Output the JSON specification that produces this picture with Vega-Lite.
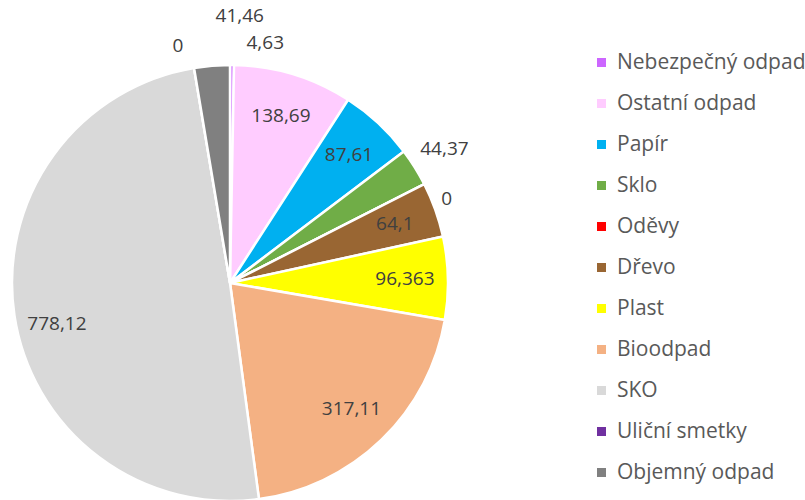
{
  "$schema": "https://vega.github.io/schema/vega-lite/v6.json",
  "width": 436,
  "height": 434,
  "padding": {"left": 12, "top": 66, "right": 357, "bottom": 0},
  "autosize": "none",
  "background": "white",
  "config": {"view": {"stroke": null}, "font": "Open Sans"},
  "data": {
    "values": [
      {"i": 1, "name": "Nebezpečný odpad", "value": 4.63, "label": "4,63"},
      {"i": 2, "name": "Ostatní odpad", "value": 138.69, "label": "138,69"},
      {"i": 3, "name": "Papír", "value": 87.61, "label": "87,61"},
      {"i": 4, "name": "Sklo", "value": 44.37, "label": "44,37"},
      {"i": 5, "name": "Oděvy", "value": 0, "label": "0"},
      {"i": 6, "name": "Dřevo", "value": 64.1, "label": "64,1"},
      {"i": 7, "name": "Plast", "value": 96.363, "label": "96,363"},
      {"i": 8, "name": "Bioodpad", "value": 317.11, "label": "317,11"},
      {"i": 9, "name": "SKO", "value": 778.12, "label": "778,12"},
      {"i": 10, "name": "Uliční smetky", "value": 0, "label": "0"},
      {"i": 11, "name": "Objemný odpad", "value": 41.46, "label": "41,46"}
    ]
  },
  "encoding": {
    "theta": {"field": "value", "type": "quantitative", "stack": true},
    "order": {"field": "i", "type": "quantitative"}
  },
  "layer": [
    {
      "mark": {"type": "arc", "outerRadius": 218, "stroke": "white", "strokeWidth": 2.5},
      "encoding": {
        "color": {
          "field": "name",
          "type": "nominal",
          "scale": {
            "domain": ["Nebezpečný odpad", "Ostatní odpad", "Papír", "Sklo", "Oděvy", "Dřevo", "Plast", "Bioodpad", "SKO", "Uliční smetky", "Objemný odpad"],
            "range": ["#CC66FF", "#FFCCFF", "#00B0F0", "#70AD47", "#FF0000", "#996633", "#FFFF00", "#F4B183", "#D9D9D9", "#7030A0", "#808080"]
          },
          "legend": {
            "title": null,
            "orient": "none",
            "legendX": 579,
            "legendY": -14,
            "symbolType": "square",
            "symbolSize": 81,
            "symbolStrokeWidth": 0,
            "labelFontSize": 21,
            "labelColor": "#595959",
            "labelFont": "Open Sans",
            "labelLimit": 300,
            "rowPadding": 19,
            "labelOffset": 5,
            "padding": 0
          }
        }
      }
    },
    {
      "mark": {"type": "text", "radius": 175, "fontSize": 19, "color": "#404040", "align": "center", "baseline": "middle"},
      "encoding": {
        "text": {"field": "label"},
        "opacity": {"condition": {"test": "indexof(['Ostatní odpad','Papír','Dřevo','Plast','Bioodpad'], datum.name) >= 0", "value": 1}, "value": 0}
      }
    },
    {
      "mark": {"type": "text", "radius": 175, "dy": 15, "fontSize": 19, "color": "#404040", "align": "center", "baseline": "middle"},
      "encoding": {
        "text": {"field": "label"},
        "opacity": {"condition": {"test": "datum.name === 'SKO'", "value": 1}, "value": 0}
      }
    },
    {
      "mark": {"type": "text", "radius": 253, "fontSize": 19, "color": "#404040", "align": "center", "baseline": "middle"},
      "encoding": {
        "text": {"field": "label"},
        "opacity": {"condition": {"test": "datum.name === 'Sklo'", "value": 1}, "value": 0}
      }
    },
    {
      "mark": {"type": "text", "radius": 233, "dx": 9, "dy": 22, "fontSize": 19, "color": "#404040", "align": "center", "baseline": "middle"},
      "encoding": {
        "text": {"field": "label"},
        "opacity": {"condition": {"test": "datum.name === 'Oděvy'", "value": 1}, "value": 0}
      }
    },
    {
      "mark": {"type": "text", "radius": 243, "dx": 33, "dy": 3, "fontSize": 19, "color": "#404040", "align": "center", "baseline": "middle"},
      "encoding": {
        "text": {"field": "label"},
        "opacity": {"condition": {"test": "datum.name === 'Nebezpečný odpad'", "value": 1}, "value": 0}
      }
    },
    {
      "mark": {"type": "text", "radius": 269, "dx": 32, "dy": 1, "fontSize": 19, "color": "#404040", "align": "center", "baseline": "middle"},
      "encoding": {
        "text": {"field": "label"},
        "opacity": {"condition": {"test": "datum.name === 'Objemný odpad'", "value": 1}, "value": 0}
      }
    },
    {
      "mark": {"type": "text", "radius": 243, "dx": -12, "dy": 3, "fontSize": 19, "color": "#404040", "align": "center", "baseline": "middle"},
      "encoding": {
        "text": {"field": "label"},
        "opacity": {"condition": {"test": "datum.name === 'Uliční smetky'", "value": 1}, "value": 0}
      }
    }
  ]
}
